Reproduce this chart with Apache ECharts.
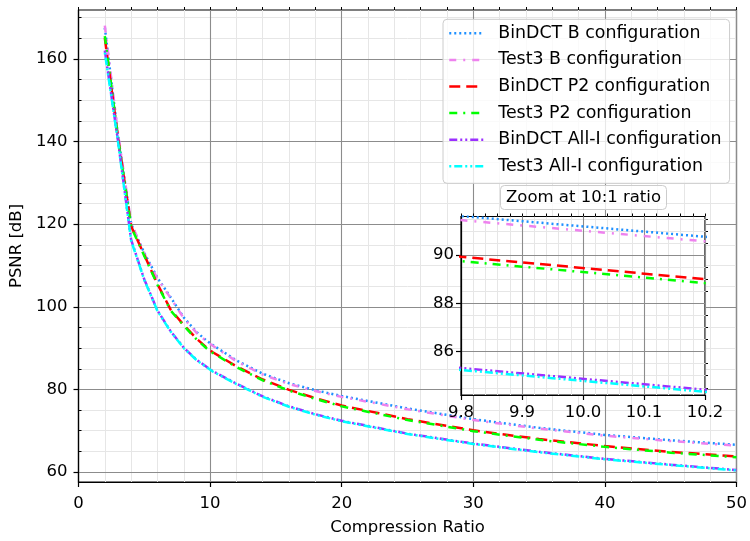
<!DOCTYPE html>
<html><head><meta charset="utf-8">
<script src="https://cdn.jsdelivr.net/npm/echarts@6/dist/echarts.min.js"></script>
<style>html,body{margin:0;padding:0;background:#fff}#c{width:750px;height:541px}</style>
</head><body><div id="c"></div>
<script>
// ---- data ----
const ratio       = [2, 3, 4, 5, 6, 7, 8, 9, 9.8, 10.2, 12, 14, 16, 18, 20, 25, 30, 35, 40, 45, 50];
const bindctB     = [167.5, 141.5, 120.0, 113.0, 107.0, 102.3, 97.4, 93.8, 91.62, 90.76, 87.0, 83.8, 81.5, 79.8, 78.4, 75.4, 72.8, 70.7, 69.0, 67.7, 66.6];
const test3B      = [168.0, 142.0, 120.3, 112.8, 106.8, 102.1, 97.2, 93.6, 91.45, 90.57, 86.8, 83.6, 81.3, 79.6, 78.2, 75.2, 72.6, 70.5, 68.8, 67.5, 66.4];
const bindctP2    = [165.0, 141.0, 119.5, 112.5, 105.5, 99.3, 95.6, 92.2, 89.93, 89.0, 85.6, 82.4, 79.9, 77.9, 76.1, 72.8, 70.1, 68.0, 66.3, 64.9, 63.8];
const test3P2     = [165.5, 140.8, 119.3, 112.3, 105.3, 99.1, 95.4, 92.0, 89.75, 88.84, 85.4, 82.2, 79.7, 77.7, 75.9, 72.6, 69.9, 67.8, 66.1, 64.7, 63.6];
const bindctAllI  = [162.0, 140.2, 116.2, 106.6, 99.1, 94.1, 90.1, 87.1, 85.32, 84.42, 81.4, 78.3, 75.9, 74.0, 72.4, 69.3, 66.9, 64.9, 63.2, 61.8, 60.5];
const test3AllI   = [161.5, 140.0, 116.0, 106.5, 99.0, 94.0, 90.0, 87.0, 85.24, 84.33, 81.3, 78.2, 75.8, 73.9, 72.3, 69.2, 66.8, 64.8, 63.1, 61.7, 60.4];
const seriesNames = ['BinDCT B configuration', 'Test3 B configuration', 'BinDCT P2 configuration',
                     'Test3 P2 configuration', 'BinDCT All-I configuration', 'Test3 All-I configuration'];
const yMajorTicks = [60, 80, 100, 120, 140, 160];
const yMinorTicks = [65, 70, 75, 85, 90, 95, 105, 110, 115, 125, 130, 135, 145, 150, 155, 165, 170];
const insetYMajor = [86, 88, 90];
const insetYMinor = [84.5, 85, 85.5, 86.5, 87, 87.5, 88.5, 89, 89.5, 90.5, 91, 91.5];
const insetTitle  = 'Zoom at 10:1 ratio';

// ---- styles ----
const FONT = 'DejaVu Sans';
const FS = 16.5;
const colors = ['#1e90ff', '#ee82ee', '#ff0000', '#00ff00', '#9b30ff', '#00ffff'];
const dashes = [[2, 3], [7, 7, 2, 7], [11, 6], [8, 6, 2, 6], [8, 3, 2, 3, 2, 3], [2, 3, 8, 3, 2, 3]];
const allData = [bindctB, test3B, bindctP2, test3P2, bindctAllI, test3AllI];
const MAJOR = '#8c8c8c', MINOR = '#e6e6e6';

function mkSeries(idx, xi, yi, z) {
  return {
    name: seriesNames[idx], type: 'line', xAxisIndex: xi, yAxisIndex: yi,
    data: ratio.map((x, i) => [x, allData[idx][i]]),
    symbol: 'none', clip: true, z: z, animation: false,
    lineStyle: { color: colors[idx], width: 2.5, type: dashes[idx] },
    itemStyle: { color: colors[idx] }
  };
}
const series = [];
for (let i = 0; i < 6; i++) series.push(mkSeries(i, 0, 0, 3));
for (let i = 0; i < 6; i++) series.push(mkSeries(i, 2, 2, 9));

const lbl = { fontFamily: FONT, fontSize: FS, color: '#000' };
const MAIN = { left: 78.5, right: 13.5, top: 10, bottom: 51 };
const INS = { left: 461, top: 216.5, width: 244, height: 178.5 };
const YMIN = 57.6, YMAX = 171.8, IYMIN = 84.2, IYMAX = 91.6;

const option = {
  backgroundColor: '#fff',
  animation: false,
  textStyle: { fontFamily: FONT },
  title: {
    text: insetTitle, left: 500, top: 185,
    backgroundColor: 'rgba(255,255,255,0.8)', borderColor: '#cccccc', borderWidth: 1, borderRadius: 4,
    padding: [4, 6, 4, 6],
    textStyle: { fontFamily: FONT, fontSize: FS, fontWeight: 'normal', color: '#000' }, z: 10
  },
  legend: {
    data: seriesNames, orient: 'vertical', left: 443, top: 19.3,
    backgroundColor: 'rgba(255,255,255,0.8)', borderColor: '#cccccc', borderWidth: 1, borderRadius: 4,
    padding: [4, 8, 7, 5], itemWidth: 34, itemHeight: 14, itemGap: 6.6,
    itemStyle: { opacity: 0, borderWidth: 0 },
    lineStyle: { width: 2.5 },
    textStyle: { fontFamily: FONT, fontSize: 17.4, color: '#000', lineHeight: 20, padding: [0, 0, 0, 10] },
    z: 10
  },
  grid: [
    Object.assign({ show: true, backgroundColor: '#fff', borderColor: '#000', borderWidth: 1.2, containLabel: false, z: 0 }, MAIN),
    Object.assign({ show: true, backgroundColor: '#fff', borderColor: '#000', borderWidth: 1.2, containLabel: false, z: 5 }, INS)
  ],
  xAxis: [
    { type: 'value', gridIndex: 0, min: 0, max: 50, interval: 10, z: 1,
      axisLine: { show: true, onZero: false, lineStyle: { color: '#000', width: 1.2 } },
      axisTick: { show: true, length: 5, lineStyle: { color: '#000', width: 1.2 } },
      axisLabel: Object.assign({ margin: 13 }, lbl),
      splitLine: { show: true, lineStyle: { color: MAJOR, width: 1.1 } },
      name: 'Compression Ratio', nameLocation: 'middle', nameGap: 37, nameTextStyle: lbl },
    { type: 'value', gridIndex: 0, min: 0, max: 50, interval: 2, z: 0,
      axisLine: { show: false },
      axisTick: { show: true, length: 3, lineStyle: { color: '#000', width: 1 } },
      axisLabel: { show: false },
      splitLine: { show: true, lineStyle: { color: MINOR, width: 1 } } },
    { type: 'value', gridIndex: 1, min: 9.8, max: 10.2, interval: 0.1, z: 7,
      axisLine: { show: true, onZero: false, lineStyle: { color: '#000', width: 1.2 } },
      axisTick: { show: true, length: 5, lineStyle: { color: '#000', width: 1.2 } },
      axisLabel: Object.assign({ margin: 9, formatter: v => v.toFixed(1) }, lbl),
      splitLine: { show: true, lineStyle: { color: MAJOR, width: 1.1 } } },
    { type: 'value', gridIndex: 1, min: 9.8, max: 10.2, interval: 0.02, z: 6,
      axisLine: { show: false },
      axisTick: { show: true, length: 3, lineStyle: { color: '#000', width: 1 } },
      axisLabel: { show: false },
      splitLine: { show: true, lineStyle: { color: MINOR, width: 1 } } }
  ],
  yAxis: [
    { type: 'value', gridIndex: 0, min: YMIN, max: YMAX, z: 1,
      axisLine: { show: true, onZero: false, lineStyle: { color: '#000', width: 1.2 } },
      axisTick: { show: true, length: 5, customValues: yMajorTicks, lineStyle: { color: '#000', width: 1.2 } },
      axisLabel: Object.assign({ margin: 11, customValues: yMajorTicks }, lbl),
      splitLine: { show: true, lineStyle: { color: MAJOR, width: 1.1 } },
      name: 'PSNR [dB]', nameLocation: 'middle', nameGap: 51, nameTextStyle: lbl },
    { type: 'value', gridIndex: 0, min: YMIN, max: YMAX, z: 0,
      axisLine: { show: false },
      axisTick: { show: true, length: 3, customValues: yMinorTicks, lineStyle: { color: '#000', width: 1 } },
      axisLabel: { show: false },
      splitLine: { show: true, lineStyle: { color: MINOR, width: 1 } } },
    { type: 'value', gridIndex: 1, min: IYMIN, max: IYMAX, z: 7,
      axisLine: { show: true, onZero: false, lineStyle: { color: '#000', width: 1.2 } },
      axisTick: { show: true, length: 5, customValues: insetYMajor, lineStyle: { color: '#000', width: 1.2 } },
      axisLabel: Object.assign({ margin: 7, customValues: insetYMajor }, lbl),
      splitLine: { show: true, lineStyle: { color: MAJOR, width: 1.1 } } },
    { type: 'value', gridIndex: 1, min: IYMIN, max: IYMAX, z: 6,
      axisLine: { show: false },
      axisTick: { show: true, length: 3, customValues: insetYMinor, lineStyle: { color: '#000', width: 1 } },
      axisLabel: { show: false },
      splitLine: { show: true, lineStyle: { color: MINOR, width: 1 } } }
  ],
  series: series
};
const chart = echarts.init(document.getElementById('c'), null, { renderer: 'canvas' });
chart.setOption(option);
</script>
</body></html>
